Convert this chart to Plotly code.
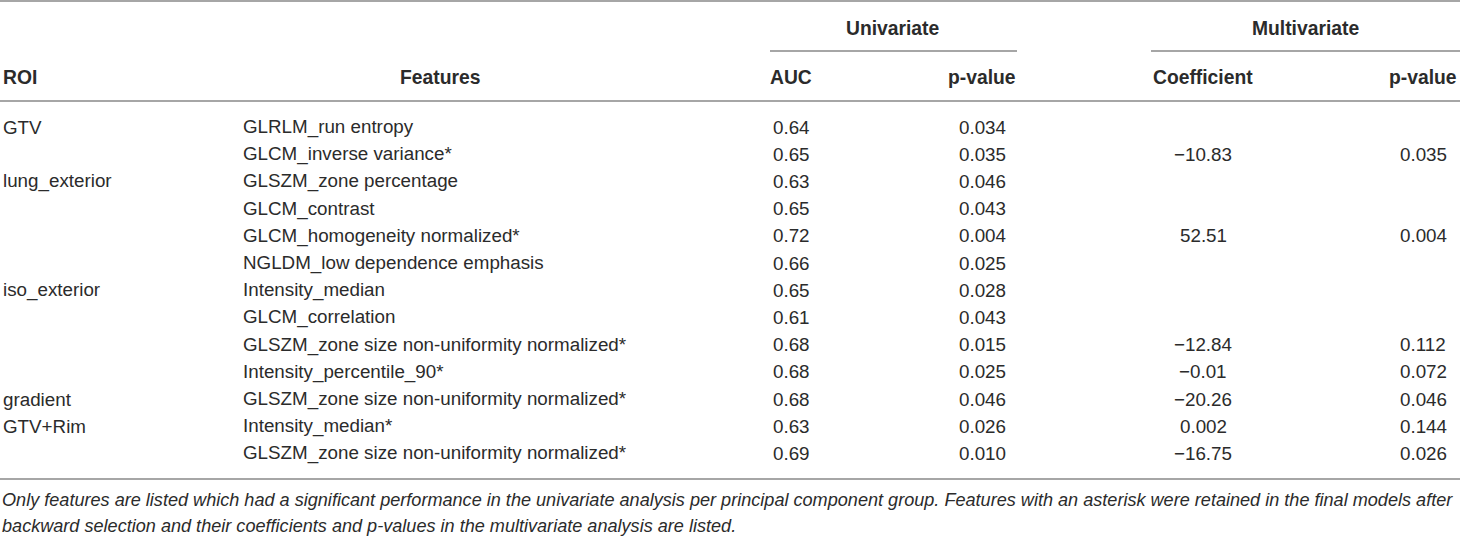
import plotly.graph_objects as go

# table rows
roi = ["GTV", "", "lung_exterior", "", "", "", "iso_exterior", "", "", "", "gradient", "GTV+Rim", ""]
features = [
    "GLRLM_run entropy",
    "GLCM_inverse variance*",
    "GLSZM_zone percentage",
    "GLCM_contrast",
    "GLCM_homogeneity normalized*",
    "NGLDM_low dependence emphasis",
    "Intensity_median",
    "GLCM_correlation",
    "GLSZM_zone size non-uniformity normalized*",
    "Intensity_percentile_90*",
    "GLSZM_zone size non-uniformity normalized*",
    "Intensity_median*",
    "GLSZM_zone size non-uniformity normalized*",
]
auc = ["0.64", "0.65", "0.63", "0.65", "0.72", "0.66", "0.65", "0.61", "0.68", "0.68", "0.68", "0.63", "0.69"]
pUni = ["0.034", "0.035", "0.046", "0.043", "0.004", "0.025", "0.028", "0.043", "0.015", "0.025", "0.046", "0.026", "0.010"]
coef = ["", "\u221210.83", "", "", "52.51", "", "", "", "\u221212.84", "\u22120.01", "\u221220.26", "0.002", "\u221216.75"]
pMulti = ["", "0.035", "", "", "0.004", "", "", "", "0.112", "0.072", "0.046", "0.144", "0.026"]

groupHeaders = ["Univariate", "Multivariate"]
colHeaders = ["ROI", "Features", "AUC", "p-value", "Coefficient", "p-value"]
footnote = [
    "Only features are listed which had a significant performance in the univariate analysis per principal component group. "
    "Features with an asterisk were retained in the final models after",
    "backward selection and their coefficients and p-values in the multivariate analysis are listed.",
]

FONT = "Liberation Sans, Arial, sans-serif"
TXT = "#2b2b2b"
LINE = "#a6a6a6"

W, H = 1460, 536
rowY0, rowStep = 127, 27.2

# x anchor and alignment per column
cols = [(1, "left"), (241, "left"), (791, "center"), (982, "center"), (1203, "center"), (1423, "center")]
headerPos = [(1, "left"), (440, "center"), (791, "center"), (982, "center"), (1203, "center"), (1423, "center")]

fig = go.Figure()
ann = []


def addText(x, y, text, anchor, bold=False, italic=False, size=18.8):
    ann.append(dict(
        x=x, y=y, xref="x", yref="y", text=text, showarrow=False,
        xanchor=anchor, yanchor="middle",
        font=dict(family=FONT, size=size, color=TXT,
                  weight="bold" if bold else "normal",
                  style="italic" if italic else "normal"),
    ))


# group headers
addText(893, 28, groupHeaders[0], "center", bold=True, size=19.3)
addText(1305, 28, groupHeaders[1], "center", bold=True, size=19.3)

for (x, a), h in zip(headerPos, colHeaders):
    addText(x, 77, h, a, bold=True, size=19.3)

columns = [roi, features, auc, pUni, coef, pMulti]
for (x, a), vals in zip(cols, columns):
    for i, v in enumerate(vals):
        if v:
            addText(x, rowY0 + rowStep * i, v, a)

# footnote, two lines under the table
addText(0, 500, footnote[0], "left", italic=True, size=18.1)
addText(0, 526, footnote[1], "left", italic=True, size=18.1)

lines = [(0, W, 1), (770, 1017, 51), (1151, W, 51), (0, W, 101), (0, W, 479)]
shapes = [dict(type="line", xref="x", yref="y", x0=a, x1=b, y0=y, y1=y,
               line=dict(color=LINE, width=2)) for a, b, y in lines]

fig.update_layout(
    width=W, height=H,
    margin=dict(l=0, r=0, t=0, b=0),
    paper_bgcolor="white", plot_bgcolor="white",
    xaxis=dict(range=[0, W], visible=False, fixedrange=True),
    yaxis=dict(range=[H, 0], visible=False, fixedrange=True),
    annotations=ann, shapes=shapes,
    showlegend=False,
)

# page body has a default 8px margin, drop it so the table fills the window
fig.write_html("out.html", config={"displayModeBar": False},
               post_script="document.body.style.margin='0';document.body.style.overflow='hidden';")
